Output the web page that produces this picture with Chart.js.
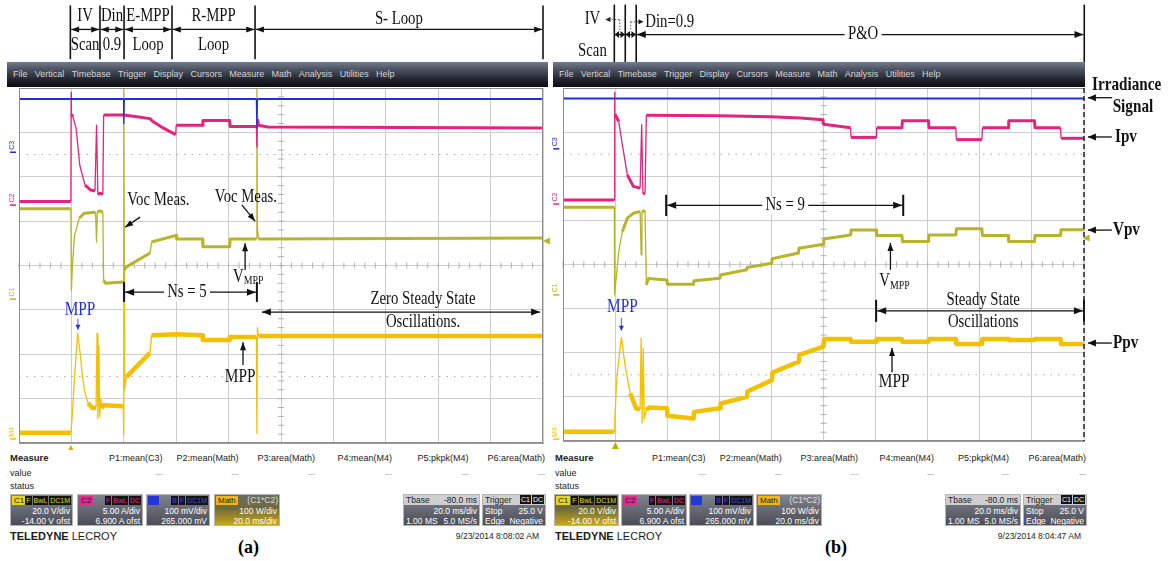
<!DOCTYPE html>
<html>
<head>
<meta charset="utf-8">
<title>MPPT scope captures</title>
<script src="https://cdn.jsdelivr.net/npm/chart.js@4.4.1/dist/chart.umd.min.js"></script>
<style>
  body { margin: 0; background: #fff; }
  #wrap { position: relative; width: 1171px; height: 561px; overflow: hidden; background: #fff;
          font-family: "Liberation Sans", Arial, sans-serif; }
  canvas { position: absolute; top: 0; }
  .menu { position: absolute; top: 62px; height: 25px; line-height: 25px; padding-left: 6px; box-sizing: border-box;
          background: linear-gradient(#737b8c 0%, #4c5262 30%, #22252d 70%, #0c0c10 100%);
          color: #d4d4d4; font-size: 9px; white-space: nowrap; }
  .menu span { margin-right: 7.3px; }
  .ft { position: absolute; font-size: 9px; line-height: 12px; color: #222; white-space: nowrap; }
  .ft.b { font-weight: bold; font-size: 9.5px; }
  .ft.dash { color: #888; font-size: 7px; }
  .box { position: absolute; top: 494px; height: 32px; box-sizing: border-box; border: 1px solid #b4b4b4;
         background: linear-gradient(#80838d, #4b4e58); color: #fff; font-size: 8.5px; overflow: hidden; white-space: nowrap; }
  .box.sel { background: linear-gradient(#6c6c66 0%, #6f6a3a 45%, #c8a818 100%); }
  .box .bd { position: absolute; left: 1px; top: 1px; height: 9px; line-height: 9px; padding: 0 2px; font-size: 8px; color: #222; }
  .box .tg { position: absolute; right: 1px; top: 1px; line-height: 9px; font-size: 7px; }
  .box .tg i { font-style: normal; display: inline-block; background: #141414; margin-left: 1px; padding: 0 1px; }
  .box .l2, .box .l3, .box .lf2, .box .lf3 { position: absolute; line-height: 10px; }
  .box .l2, .box .l3 { right: 2px; }
  .box .lf2, .box .lf3 { left: 2px; }
  .box .l2, .box .lf2 { top: 11px; }
  .box .l3, .box .lf3 { top: 20.5px; }
  .box .hd { position: absolute; left: 0; right: 0; top: 0; height: 10px; line-height: 10px; background: #cfcfcf; color: #222; }
  .logo { position: absolute; top: 530px; font-size: 11px; color: #1b1b1b; white-space: nowrap; }
  .tag { position: absolute; top: 537px; font: bold 18px "Liberation Serif", serif; }
</style>
</head>
<body>
<div id="wrap">
  <canvas id="scopeA" width="550" height="450" style="left:0"></canvas>
  <canvas id="scopeB" width="621" height="450" style="left:550px"></canvas>
  <div class="menu" id="menuA" style="left:7px;width:541px"></div>
  <div class="menu" id="menuB" style="left:553px;width:532px"></div>
</div>
<script>
// time in ms (20 ms/div, 10 div), level in screen divisions (0 = bottom, 8 = top)

// (a) proposed scheme
const irrA = [[0,7.75],[39.9,7.75],[40.0,7.2],[40.2,7.75],[90.6,7.75],[90.8,7.1],[91.0,7.75],[200,7.75]];
const ipvA = [[0,5.44],[19.8,5.44],[19.9,7.9],[20.0,7.41],[20.6,7.35],[21.8,7.09],[23.2,6.26],[25.2,5.81],[27.4,5.7],
  [29.0,5.68],[29.6,7.16],[30.1,5.6],[31.0,5.63],[32.0,5.6],[32.3,7.39],[40.0,7.39],[45.0,7.35],[50.0,7.31],[51.0,7.25],
  [55.0,7.1],[59.8,6.95],[60.0,7.16],[70.0,7.16],[70.2,7.27],[80.4,7.27],[80.6,7.13],[90.6,7.13],[90.8,6.67],[91.0,7.3],
  [91.4,7.16],[95.0,7.12],[200,7.1]];
const vpvA = [[0,5.28],[19.8,5.28],[20.0,3.44],[20.4,4.0],[21.2,4.68],[23.0,5.07],[25.0,5.18],[29.2,5.2],[29.6,4.53],
  [29.9,5.22],[30.8,5.23],[32.0,5.2],[32.3,3.67],[33.0,3.6],[39.8,3.63],[40.0,8.0],[40.2,3.9],[41.0,3.97],[50.0,4.28],
  [50.6,4.53],[60.0,4.68],[60.2,4.6],[70.0,4.6],[70.2,4.42],[80.4,4.42],[80.6,4.6],[90.6,4.6],[90.8,8.0],[91.0,4.85],
  [91.4,4.6],[200,4.62]];
const ppvA = [[0,0.23],[19.8,0.23],[20.2,0.5],[21.2,1.5],[22.4,2.47],[23.4,2.0],[24.2,1.5],[25.2,1.13],[26.4,0.9],
  [28.0,0.79],[29.4,0.8],[29.8,2.47],[30.1,0.55],[30.5,2.2],[30.8,0.6],[31.2,1.0],[31.6,0.78],[32.2,0.85],[39.8,0.83],
  [40.0,0.18],[40.1,4.0],[40.3,1.2],[41.0,1.49],[50.0,2.03],[50.6,2.43],[60.0,2.45],[70.0,2.43],[70.2,2.32],[80.4,2.32],
  [80.6,2.39],[90.6,2.39],[90.8,0.22],[91.0,2.6],[91.4,2.41],[200,2.41]];

// (b) conventional P&O
const irrB = [[0,7.76],[200,7.76]];
const ipvB = [[0,5.46],[19.7,5.46],[19.8,7.9],[19.9,7.41],[21.4,7.24],[22.8,6.71],[24.7,6.03],[27.0,5.77],[29.6,5.73],
  [30.2,7.17],[30.7,5.6],[31.5,5.62],[32.0,7.38],[60.0,7.37],[79.6,7.35],[91.1,7.32],[99.8,7.28],[100.0,7.18],[110.4,7.1],
  [110.6,6.88],[120.2,6.88],[120.4,7.1],[130.1,7.1],[130.3,7.26],[140.3,7.26],[140.5,7.1],[150.8,7.1],[151.0,6.83],
  [160.8,6.83],[161.0,7.1],[170.9,7.1],[171.1,7.26],[181.0,7.26],[181.2,7.1],[191.0,7.1],[191.2,6.86],[200,6.86]];
const vpvB = [[0,5.3],[19.7,5.3],[19.8,3.31],[21.4,4.29],[22.8,4.75],[24.7,5.05],[27.0,5.16],[29.6,5.2],[30.0,4.22],
  [30.3,5.2],[31.5,5.22],[32.0,3.54],[32.8,3.68],[39.9,3.65],[40.1,3.55],[50.1,3.55],[50.3,3.63],[60.2,3.69],[60.4,3.76],
  [70.5,3.88],[70.7,3.93],[80.1,4.03],[80.3,4.13],[90.4,4.26],[90.6,4.37],[99.9,4.46],[100.1,4.58],[110.4,4.67],
  [110.6,4.78],[120.2,4.78],[120.4,4.66],[130.1,4.66],[130.3,4.52],[140.3,4.52],[140.5,4.67],[150.8,4.67],[151.0,4.81],
  [160.8,4.81],[161.0,4.66],[170.9,4.66],[171.1,4.52],[181.0,4.52],[181.2,4.66],[191.0,4.66],[191.2,4.79],[200,4.79]];
const ppvB = [[0,0.21],[19.7,0.21],[19.9,0.5],[20.7,1.46],[22.4,2.35],[23.9,1.68],[25.8,1.08],[28.1,0.74],[29.6,0.72],
  [30.0,2.33],[30.4,0.41],[30.8,2.1],[31.2,0.5],[32.0,0.7],[33.0,0.76],[39.9,0.74],[40.1,0.57],[50.1,0.51],[50.3,0.66],
  [60.3,0.74],[60.5,0.85],[70.6,1.0],[70.8,1.12],[80.2,1.38],[80.4,1.55],[90.5,1.8],[90.7,1.95],[100.0,2.14],[100.2,2.31],
  [110.4,2.31],[110.6,2.25],[120.2,2.25],[120.4,2.31],[130.1,2.31],[130.3,2.25],[140.3,2.25],[140.5,2.31],[150.8,2.31],
  [151.0,2.2],[160.8,2.2],[161.0,2.31],[170.9,2.31],[171.1,2.29],[181.0,2.29],[181.2,2.31],[191.0,2.31],[191.2,2.2],[200,2.2]];

// phase boundaries (ms) drawn above each screen
const phasesA = [19.6, 30.9, 40.1, 58.4, 90.1, 200];
const phaseTopA = ['IV', 'Din', 'E-MPP', 'R-MPP'];
const phaseBotA = ['Scan', '0.9', 'Loop', 'Loop'];
const phasesB = [19.7, 23.9, 28.1, 200.1];

const menuItems = ['File', 'Vertical', 'Timebase', 'Trigger', 'Display', 'Cursors', 'Measure', 'Math', 'Analysis', 'Utilities', 'Help'];
const measureNames = ['P1:mean(C3)', 'P2:mean(Math)', 'P3:area(Math)', 'P4:mean(M4)', 'P5:pkpk(M4)', 'P6:area(Math)'];

const BLUE = '#1f30d4', PINK = '#e2247e', OLIVE = '#b8b42a', GOLD = '#f3c000';

// fast edges are drawn thin, like on the scope screen
function ds(points, color, width) {
    const steep = c => {
        const dy = Math.abs(c.p1.y - c.p0.y), dx = Math.abs(c.p1.x - c.p0.x);
        return dy > 8 && dx * 3 < dy;
    };
    return {
        data: points.map(p => ({ x: p[0], y: p[1] })),
        borderColor: color, borderWidth: width, pointRadius: 0, tension: 0, fill: false,
        borderJoinStyle: 'round',
        segment: { borderWidth: c => steep(c) ? 1.3 : width }
    };
}

function tools(chart) {
    const ctx = chart.ctx, xs = chart.scales.x, ys = chart.scales.y;
    const X = v => xs.getPixelForValue(v), Y = v => ys.getPixelForValue(v);
    function seg(x1, y1, x2, y2, w, c, dash) {
        ctx.save(); ctx.strokeStyle = c || '#111'; ctx.lineWidth = w || 1.3;
        if (dash) ctx.setLineDash(dash);
        ctx.beginPath(); ctx.moveTo(X(x1), Y(y1)); ctx.lineTo(X(x2), Y(y2)); ctx.stroke(); ctx.restore();
    }
    function head(px, py, ang, len, hw, c) {
        ctx.save(); ctx.fillStyle = c || '#111'; ctx.translate(px, py); ctx.rotate(ang);
        ctx.beginPath(); ctx.moveTo(0, 0); ctx.lineTo(-len, -hw); ctx.lineTo(-len, hw); ctx.closePath(); ctx.fill(); ctx.restore();
    }
    function arrow(x1, y1, x2, y2, o) {
        o = o || {};
        const a = Math.atan2(Y(y2) - Y(y1), X(x2) - X(x1));
        seg(x1, y1, x2, y2, o.w || 1.3, o.color);
        head(X(x2), Y(y2), a, o.len || 9, o.hw || 3.5, o.color);
        if (o.both) head(X(x1), Y(y1), a + Math.PI, o.len || 9, o.hw || 3.5, o.color);
    }
    function text(s, x, y, o) {
        o = o || {};
        ctx.save(); ctx.font = o.font || '18px "Liberation Serif"'; ctx.textBaseline = 'middle';
        ctx.translate(X(x), Y(y)); ctx.scale(o.sx || 0.82, 1); ctx.textAlign = o.align || 'center';
        const w = ctx.measureText(s).width;
        if (o.bg) {
            const l = o.align === 'left' ? 0 : -w / 2;
            ctx.fillStyle = o.bg; ctx.fillRect(l - 4, -9, w + 8, 18);
        }
        ctx.fillStyle = o.color || '#111'; ctx.fillText(s, 0, 0); ctx.restore();
    }
    function vmpp(x, y) {
        ctx.save(); ctx.translate(X(x), Y(y)); ctx.scale(0.82, 1); ctx.fillStyle = '#111';
        ctx.textBaseline = 'middle'; ctx.textAlign = 'left';
        ctx.font = '18px "Liberation Serif"'; ctx.fillText('V', 0, 0);
        const w = ctx.measureText('V').width;
        ctx.font = '12px "Liberation Serif"'; ctx.fillText('MPP', w, 4); ctx.restore();
    }
    function chLabel(s, x, y, c) {
        ctx.save(); ctx.translate(X(x), Y(y)); ctx.rotate(-Math.PI / 2);
        ctx.font = '7px "Liberation Sans"'; ctx.fillStyle = c; ctx.textAlign = 'center'; ctx.textBaseline = 'middle';
        ctx.fillText(s, 0, 0); ctx.restore();
        ctx.save(); ctx.strokeStyle = c; ctx.lineWidth = 1.5; ctx.beginPath();
        ctx.moveTo(X(x) - 2, Y(y) + 7); ctx.lineTo(X(x) + 4, Y(y) + 7); ctx.stroke(); ctx.restore();
    }
    function tri(x, y, dir, c, s) {
        s = s || 4; const px = X(x), py = Y(y);
        ctx.save(); ctx.fillStyle = c; ctx.beginPath();
        if (dir === 'up') { ctx.moveTo(px, py - s); ctx.lineTo(px - s, py + s); ctx.lineTo(px + s, py + s); }
        else { ctx.moveTo(px - s, py); ctx.lineTo(px + s, py - s); ctx.lineTo(px + s, py + s); }
        ctx.closePath(); ctx.fill(); ctx.restore();
    }
    return { ctx, X, Y, seg, head, arrow, text, vmpp, chLabel, tri, area: chart.chartArea };
}

function screenExtras(g) {
    const ctx = g.ctx;
    ctx.save();
    ctx.setLineDash([1.5, 6]); ctx.strokeStyle = '#a9a9a9'; ctx.lineWidth = 1;
    [6.5, 1.5].forEach(v => { ctx.beginPath(); ctx.moveTo(g.X(0), g.Y(v)); ctx.lineTo(g.X(200), g.Y(v)); ctx.stroke(); });
    ctx.setLineDash([]); ctx.strokeStyle = '#b0b0b0';
    for (let t = 0; t <= 200; t += 4) {
        ctx.beginPath(); ctx.moveTo(g.X(t), g.Y(4) - 3); ctx.lineTo(g.X(t), g.Y(4) + 3); ctx.stroke();
    }
    for (let v = 0; v <= 8; v += 0.2) {
        ctx.beginPath(); ctx.moveTo(g.X(100) - 3, g.Y(v)); ctx.lineTo(g.X(100) + 3, g.Y(v)); ctx.stroke();
    }
    ctx.restore();
}

function drawA(g) {
    const P = phasesA;
    P.forEach(x => g.seg(x, 9.86, x, 8.65, 1.6));
    for (let i = 0; i < P.length - 1; i++) g.arrow(P[i] + 0.3, 9.32, P[i + 1] - 0.3, 9.32, { both: true, len: 8, hw: 3 });
    phaseTopA.forEach((s, i) => {
        const c = (P[i] + P[i + 1]) / 2;
        g.text(s, c, 9.62); g.text(phaseBotA[i], c, 8.96);
    });
    g.text('S- Loop', 145, 9.55);

    g.text('Voc Meas.', 53.2, 5.47);
    g.arrow(46.2, 5.09, 40.5, 4.86, { len: 8, hw: 3 });
    g.text('Voc Meas.', 86.6, 5.54);
    g.arrow(85.1, 5.36, 90.1, 5.0, { len: 8, hw: 3 });
    g.vmpp(81.7, 3.74);
    g.arrow(86.3, 3.9, 86.3, 4.5, { len: 8, hw: 3 });

    g.seg(40.1, 3.63, 40.1, 3.18, 2); g.seg(90.8, 3.63, 90.8, 3.18, 2);
    g.arrow(64.1, 3.4, 40.5, 3.4, { len: 9, hw: 3.5 });
    g.arrow(64.1, 3.4, 90.4, 3.4, { len: 9, hw: 3.5 });
    g.text('Ns = 5', 64.1, 3.4, { bg: '#fff' });

    g.text('MPP', 23.3, 3.0, { color: BLUE, sx: 0.85 });
    g.arrow(22.5, 2.8, 22.5, 2.55, { len: 5, hw: 2.5, color: BLUE, w: 0.8 });
    g.text('MPP', 84.4, 1.49, { sx: 0.85 });
    g.arrow(85.5, 1.76, 85.5, 2.27, { len: 8, hw: 3 });

    g.arrow(92.7, 2.95, 198.9, 2.95, { both: true, len: 9, hw: 3.5 });
    g.text('Zero Steady State', 154.2, 3.24);
    g.text('Oscillations.', 154.2, 2.73);

    g.chLabel('C3', -2.67, 6.71, BLUE);
    g.chLabel('C2', -2.67, 5.52, PINK);
    g.chLabel('C1', -2.67, 3.4, OLIVE);
    g.chLabel('M4', -2.67, 0.25, GOLD);
    g.tri(19.8, -0.12, 'up', '#d9b200', 3.5);
    g.tri(201.3, 4.55, 'left', OLIVE, 3.5);
    const a = g.area;
    g.ctx.save(); g.ctx.strokeStyle = '#8c8c8c'; g.ctx.lineWidth = 1;
    g.ctx.strokeRect(a.left + 0.5, a.top + 0.5, a.right - a.left - 1, a.bottom - a.top - 1); g.ctx.restore();
}

function drawB(g) {
    const P = phasesB;
    P.forEach(x => g.seg(x, 9.89, x, 8.59, 1.6));
    g.arrow(P[0] + 0.1, 9.21, P[1] - 0.1, 9.21, { both: true, len: 4.5, hw: 3.5 });
    g.arrow(P[1] + 0.1, 9.21, P[2] - 0.1, 9.21, { both: true, len: 4.5, hw: 3.5 });
    g.arrow(P[2] + 0.2, 9.21, P[3] - 0.3, 9.21, { both: true, len: 9, hw: 3.5 });
    g.text('P&O', 115.2, 9.21, { bg: '#fff' });
    g.text('IV', 11.3, 9.55);
    g.text('Scan', 11.3, 8.84);
    g.head(g.X(16.3), g.Y(9.55), Math.PI, 5, 2.5);
    g.seg(16.4, 9.55, 21.8, 9.55, 1, '#555', [1.5, 1.5]);
    g.seg(21.8, 9.55, 21.8, 9.3, 1, '#555', [1.5, 1.5]);
    g.seg(26.0, 9.5, 30.3, 9.5, 1, '#555', [1.5, 1.5]);
    g.seg(26.0, 9.5, 26.0, 9.3, 1, '#555', [1.5, 1.5]);
    g.head(g.X(30.9), g.Y(9.5), 0, 5, 2.5);
    g.text('Din=0.9', 31.6, 9.5, { align: 'left' });

    g.seg(39.6, 5.58, 39.6, 5.1, 2); g.seg(130.6, 5.58, 130.6, 5.1, 2);
    g.arrow(85.3, 5.34, 40.0, 5.34, { len: 9, hw: 3.5 });
    g.arrow(85.3, 5.34, 130.2, 5.34, { len: 9, hw: 3.5 });
    g.text('Ns = 9', 85.3, 5.34, { bg: '#fff' });

    g.vmpp(121.4, 3.61);
    g.arrow(125.7, 3.88, 125.7, 4.49, { len: 8, hw: 3 });
    g.text('MPP', 22.8, 3.02, { color: BLUE, sx: 0.85 });
    g.arrow(22.4, 2.79, 22.4, 2.5, { len: 5, hw: 2.5, color: BLUE, w: 0.8 });
    g.text('MPP', 127.1, 1.32, { sx: 0.85 });
    g.arrow(126.3, 1.56, 126.3, 2.11, { len: 8, hw: 3 });

    g.seg(120.2, 3.2, 120.2, 2.7, 2); g.seg(200, 3.2, 200, 2.7, 2);
    g.arrow(120.6, 2.95, 199.6, 2.95, { both: true, len: 9, hw: 3.5 });
    g.text('Steady State', 161.3, 3.19);
    g.text('Oscillations', 161.3, 2.68);

    const lab = { font: 'bold 19px "Liberation Serif"', align: 'left', sx: 0.8 };
    g.text('Irradiance', 203.1, 8.07, lab);
    g.text('Signal', 211.0, 7.57, lab);
    g.arrow(210.8, 7.78, 201.5, 7.78, { len: 8, hw: 3.5 });
    g.text('Ipv', 211.9, 6.89, lab);
    g.arrow(210.7, 6.89, 201.5, 6.89, { len: 8, hw: 3.5 });
    g.text('Vpv', 211.1, 4.78, lab);
    g.arrow(210.7, 4.78, 201.5, 4.78, { len: 8, hw: 3.5 });
    g.text('Ppv', 211.1, 2.22, lab);
    g.arrow(210.7, 2.22, 201.5, 2.22, { len: 8, hw: 3.5 });

    g.chLabel('C3', -2.95, 6.78, BLUE);
    g.chLabel('C2', -2.95, 5.53, PINK);
    g.chLabel('C1', -2.95, 3.47, OLIVE);
    g.chLabel('M4', -2.95, 0.2, GOLD);
    g.tri(20.1, -0.1, 'up', '#b5b000', 3.5);
    g.tri(200.8, 4.6, 'left', OLIVE, 3.5);
    const a = g.area;
    g.ctx.save(); g.ctx.strokeStyle = '#8c8c8c'; g.ctx.lineWidth = 1;
    g.ctx.beginPath(); g.ctx.moveTo(a.right, a.top + 0.5); g.ctx.lineTo(a.left + 0.5, a.top + 0.5);
    g.ctx.lineTo(a.left + 0.5, a.bottom - 0.5); g.ctx.lineTo(a.right, a.bottom - 0.5); g.ctx.stroke(); g.ctx.restore();
    g.seg(200, 8, 200, 0, 1.5, '#222', [5, 3]);
}

function scopeOptions(pad) {
    const axis = (max, step) => ({
        type: 'linear', min: 0, max: max,
        ticks: { display: false, stepSize: step },
        grid: { color: '#cdcdcd', lineWidth: 1, drawTicks: false },
        border: { display: true, color: '#9a9a9a' }
    });
    return {
        responsive: false, animation: false, events: [],
        layout: { padding: pad },
        plugins: { legend: { display: false }, tooltip: { enabled: false } },
        scales: { x: axis(200, 20), y: axis(8, 1) }
    };
}

function scope(id, sets, pad, draw) {
    new Chart(document.getElementById(id), {
        type: 'line',
        data: { datasets: [ds(sets[0], BLUE, 2), ds(sets[1], PINK, 3), ds(sets[2], OLIVE, 3), ds(sets[3], GOLD, 4.5)] },
        options: scopeOptions(pad),
        plugins: [{
            id: 'scopeExtras',
            beforeDatasetsDraw(chart) { screenExtras(tools(chart)); },
            afterDatasetsDraw(chart) { draw(tools(chart)); }
        }]
    });
}

scope('scopeA', [irrA, ipvA, vpvA, ppvA], { left: 19, right: 7, top: 88, bottom: 7 }, drawA);
scope('scopeB', [irrB, ipvB, vpvB, ppvB], { left: 13, right: 87, top: 88, bottom: 9 }, drawB);

// oscilloscope chrome
['menuA', 'menuB'].forEach(id => {
    document.getElementById(id).innerHTML = menuItems.map(m => `<span>${m}</span>`).join('');
});

const chanInfo = [
    { label: 'C1', bg: '#e4d61c', tc: '#e4d61c', tags: ['F', 'BwL', 'DC1M'], l2: '20.0 V/div', l3: '-14.00 V ofst' },
    { label: 'C2', bg: '#e3278b', tc: '#e3278b', tags: ['F', 'BwL', 'DC'], l2: '5.00 A/div', l3: '6.900 A ofst' },
    { label: '&nbsp;&nbsp;&nbsp;', bg: '#2438d6', tc: '#3a4fe0', tags: ['B', 'F', 'DC1M'], l2: '100 mV/div', l3: '265.000 mV' },
    { label: 'Math', bg: '#f0b41c', tc: '#ddd', tags: [], right: '(C1*C2)', l2: '100 W/div', l3: '20.0 ms/div' }
];

function footer(p) {
    const R = x => 1171 - x;
    let h = `<div class="ft b" style="left:${p.x0}px;top:452px">Measure</div>` +
        `<div class="ft" style="left:${p.x0}px;top:467px">value</div>` +
        `<div class="ft" style="left:${p.x0}px;top:480px">status</div>`;
    measureNames.forEach((n, i) => {
        h += `<div class="ft" style="right:${R(p.ends[i])}px;top:452px">${n}</div>` +
             `<div class="ft dash" style="right:${R(p.ends[i])}px;top:468px">---</div>`;
    });
    chanInfo.forEach((c, i) => {
        const tg = c.right ? `<span class="tg" style="font-size:8.5px;color:#ddd">${c.right}</span>`
            : `<span class="tg" style="color:${c.tc}">${c.tags.map(t => `<i>${t}</i>`).join('')}</span>`;
        h += `<div class="box${i === p.sel ? ' sel' : ''}" style="left:${p.boxes[i][0]}px;width:${p.boxes[i][1]}px">` +
             `<span class="bd" style="background:${c.bg}">${c.label}</span>${tg}` +
             `<span class="l2">${c.l2}</span><span class="l3">${c.l3}</span></div>`;
    });
    h += `<div class="box" style="left:${p.tb[0]}px;width:${p.tb[1]}px"><div class="hd"><span style="padding-left:2px">Tbase</span>` +
         `<span style="position:absolute;right:2px">-80.0 ms</span></div><span class="l2">20.0 ms/div</span>` +
         `<span class="lf3">1.00 MS</span><span class="l3">5.0 MS/s</span></div>`;
    h += `<div class="box" style="left:${p.tr[0]}px;width:${p.tr[1]}px"><div class="hd"><span style="padding-left:2px">Trigger</span>` +
         `<span class="tg" style="top:0"><i style="color:#fff">C1</i><i style="color:#fff">DC</i></span></div>` +
         `<span class="lf2">Stop</span><span class="l2">25.0 V</span><span class="lf3">Edge</span><span class="l3">Negative</span></div>`;
    h += `<div class="logo" style="left:${p.x0}px"><b>TELEDYNE</b> LECROY</div>`;
    h += `<div class="ft" style="right:${R(p.dateR)}px;top:530px;font-size:8.5px">${p.date}</div>`;
    h += `<div class="tag" style="left:${p.tagX}px">${p.tag}</div>`;
    document.getElementById('wrap').insertAdjacentHTML('beforeend', h);
}

footer({ x0: 10, ends: [162.5, 238.6, 315, 392, 468.6, 545], boxes: [[10, 63], [77, 66], [146, 64], [214, 66]], sel: 3,
         tb: [403, 77], tr: [482, 64], date: '9/23/2014 8:08:02 AM', dateR: 539, tag: '(a)', tagX: 238 });
footer({ x0: 555, ends: [705.6, 781.7, 858, 934, 1009, 1086], boxes: [[554, 65], [621, 66], [689, 65], [756, 66]], sel: 0,
         tb: [945, 76], tr: [1023, 64], date: '9/23/2014 8:04:47 AM', dateR: 1081, tag: '(b)', tagX: 825 });
</script>
</body>
</html>
